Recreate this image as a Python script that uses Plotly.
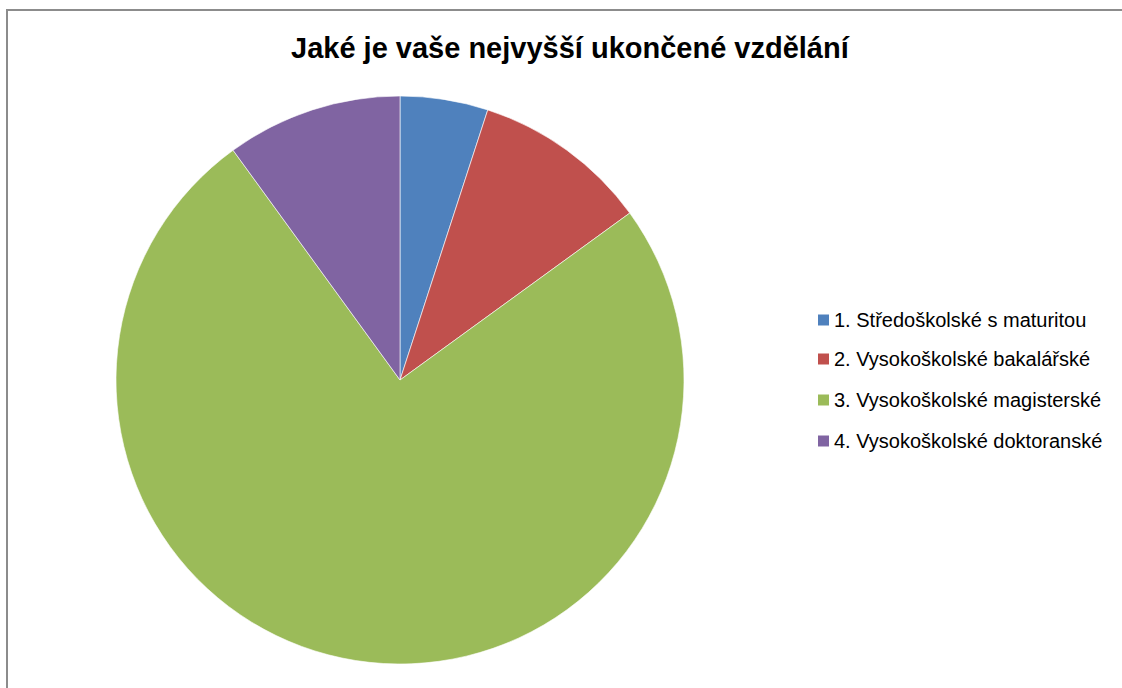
import plotly.graph_objects as go

title = "Jaké je vaše nejvyšší ukončené vzdělání"
labels = [
    "1. Středoškolské s maturitou",
    "2. Vysokoškolské bakalářské",
    "3. Vysokoškolské magisterské",
    "4. Vysokoškolské doktoranské",
]
values = [1, 2, 15, 2]
colors = ["#4F81BD", "#C0504D", "#9BBB59", "#8064A2"]

W, H = 1122, 688
fig = go.Figure(go.Pie(
    labels=labels,
    values=values,
    sort=False,
    direction="clockwise",
    rotation=0,
    textinfo="none",
    marker=dict(colors=colors, line=dict(color="rgba(255,255,255,0.6)", width=1)),
    domain=dict(x=[116 / W, 684 / W], y=[1 - 664 / H, 1 - 96 / H]),
    showlegend=False,
))

shapes = [dict(type="rect", xref="paper", yref="paper",
               x0=7 / W, x1=1.02, y0=-0.02, y1=1 - 10 / H,
               line=dict(color="#8C8C8C", width=2), fillcolor="rgba(0,0,0,0)")]
annotations = [dict(text=f"<b>{title}</b>", x=570 / W, y=1 - 48 / H, xref="paper", yref="paper",
                    xanchor="center", yanchor="middle", showarrow=False,
                    font=dict(family="Liberation Sans, Arial", size=29, color="#000"))]
row_y = [320, 359, 400, 441]
for i, (lab, col) in enumerate(zip(labels, colors)):
    yc = row_y[i]
    shapes.append(dict(type="rect", xref="paper", yref="paper",
                       x0=818 / W, x1=829 / W, y0=1 - (yc + 5.5) / H, y1=1 - (yc - 5.5) / H,
                       line=dict(width=0), fillcolor=col))
    annotations.append(dict(text=lab, x=832 / W, y=1 - yc / H, xref="paper", yref="paper",
                            xanchor="left", yanchor="middle", showarrow=False,
                            font=dict(family="Liberation Sans, Arial", size=20, color="#000")))

fig.update_layout(
    width=W, height=H,
    margin=dict(l=0, r=0, t=0, b=0),
    paper_bgcolor="white",
    shapes=shapes,
    annotations=annotations,
)
fig.write_html("out.html")
